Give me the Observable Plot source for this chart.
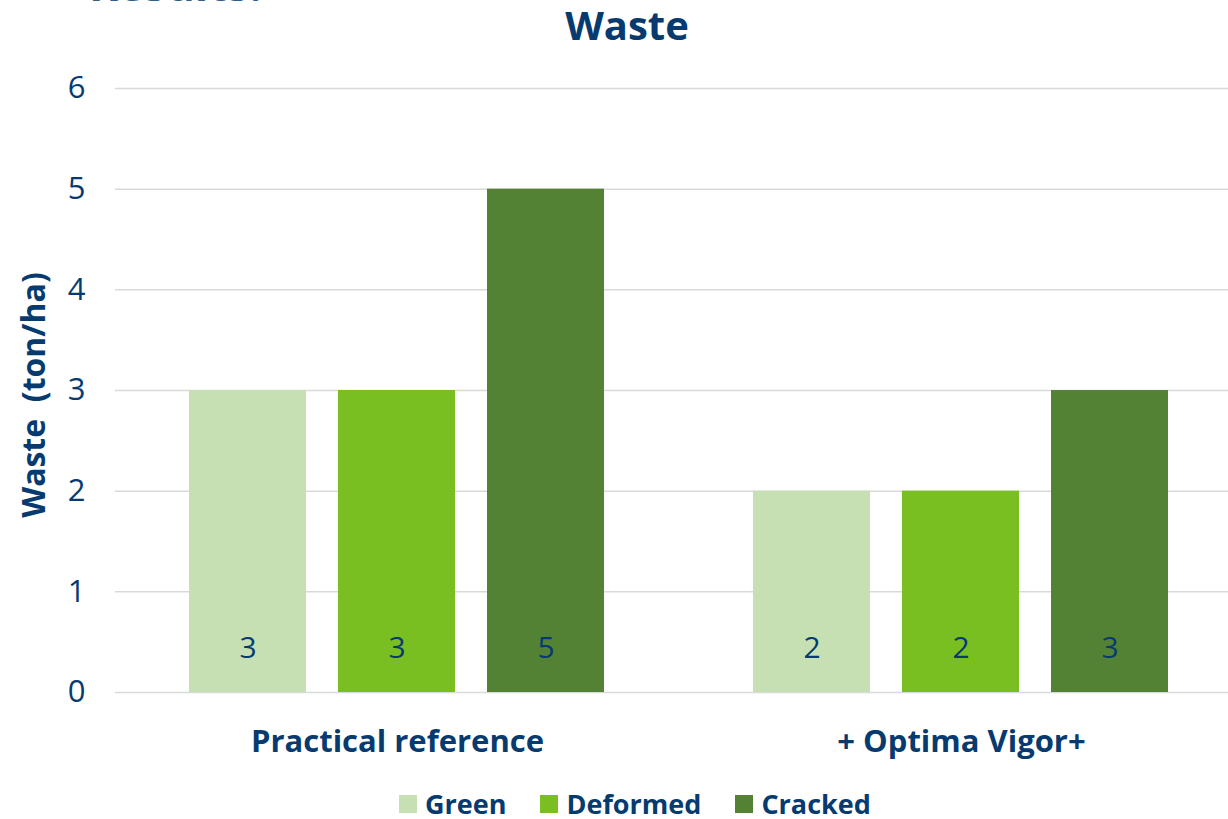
<!DOCTYPE html>
<html>
<head>
<meta charset="utf-8">
<script src="https://cdn.jsdelivr.net/npm/d3@7"></script>
<script src="https://cdn.jsdelivr.net/npm/@observablehq/plot@0.6"></script>
<style>
  html, body { margin: 0; padding: 0; background: #fff; overflow: hidden; }
  #wrap { position: relative; width: 1228px; height: 819px; overflow: hidden; font-family: 'Open Sans', sans-serif; color: #073b6f; }
  #chart { position: absolute; left: 0; top: 0; }
  #chart svg { max-width: none !important; height: 819px !important; }
  #cut { position: absolute; left: 89px; top: -38px; font-size: 44px; line-height: 44px; font-weight: 700; color: #2e5e8e; white-space: pre; }
  #title { position: absolute; left: 527px; top: 5px; width: 200px; text-align: center; font-size: 40px; line-height: 40px; font-weight: 700; }
  #ytitle { position: absolute; left: 33px; top: 395px; transform: translate(-50%, -50%) rotate(-90deg); font-size: 32px; line-height: 32px; font-weight: 700; white-space: pre; }
  #legend { position: absolute; left: 399px; top: 790px; display: flex; align-items: center; font-size: 27px; line-height: 27px; font-weight: 700; }
  .item { display: flex; align-items: center; margin-right: 34px; }
  .sw { width: 18px; height: 18px; margin-right: 8px; }
</style>
</head>
<body>
<div id="wrap">
  <div id="chart"></div>
  <div id="cut">Results:</div>
  <div id="title">Waste</div>
  <div id="ytitle">Waste  (ton/ha)</div>
  <div id="legend"></div>
</div>
<script>
const groups = ["Practical reference", "+ Optima Vigor+"];
const series = ["Green", "Deformed", "Cracked"];
const practicalValues = [3, 3, 5];
const optimaValues = [2, 2, 3];
const colors = ["#c6e0b4", "#7abf22", "#548235"];
const yTicks = [0, 1, 2, 3, 4, 5, 6];
const textColor = "#073b6f";

const valuesByGroup = [practicalValues, optimaValues];
const rows = groups.flatMap((g, gi) => series.map((s, si) => ({group: g, series: s, value: valuesByGroup[gi][si]})));

const chart = Plot.plot({
  width: 1243,
  height: 819,
  marginTop: 88,
  marginBottom: 127,
  marginLeft: 115,
  marginRight: 0,
  style: {fontFamily: "'Open Sans', sans-serif", color: textColor, background: "transparent"},
  fx: {domain: groups, padding: 0, label: null},
  x: {domain: series, paddingInner: 0.2133, paddingOuter: 0.4867, axis: null},
  y: {domain: [0, 6], axis: null},
  color: {domain: series, range: colors},
  marks: [
    Plot.gridY(yTicks, {stroke: "#d9d9d9", strokeOpacity: 1, strokeWidth: 1.5}),
    Plot.barY(rows, {fx: "group", x: "series", y: "value", fill: "series"}),
    Plot.text(rows, {fx: "group", x: "series", y: () => 0, text: d => String(d.value), dy: -44, fontSize: 30, fill: textColor}),
    Plot.axisY(yTicks, {tickSize: 0, tickPadding: 30, fontSize: 31, label: null, tickFormat: d => String(d)}),
    Plot.axisFx({anchor: "bottom", tickSize: 0, tickPadding: 37, fontSize: 31, fontWeight: "bold", label: null})
  ]
});
document.getElementById("chart").appendChild(chart);

const legend = document.getElementById("legend");
series.forEach((s, i) => {
  const item = document.createElement("div");
  item.className = "item";
  const sw = document.createElement("span");
  sw.className = "sw";
  sw.style.background = colors[i];
  const lab = document.createElement("span");
  lab.textContent = s;
  item.appendChild(sw);
  item.appendChild(lab);
  legend.appendChild(item);
});
</script>
</body>
</html>
